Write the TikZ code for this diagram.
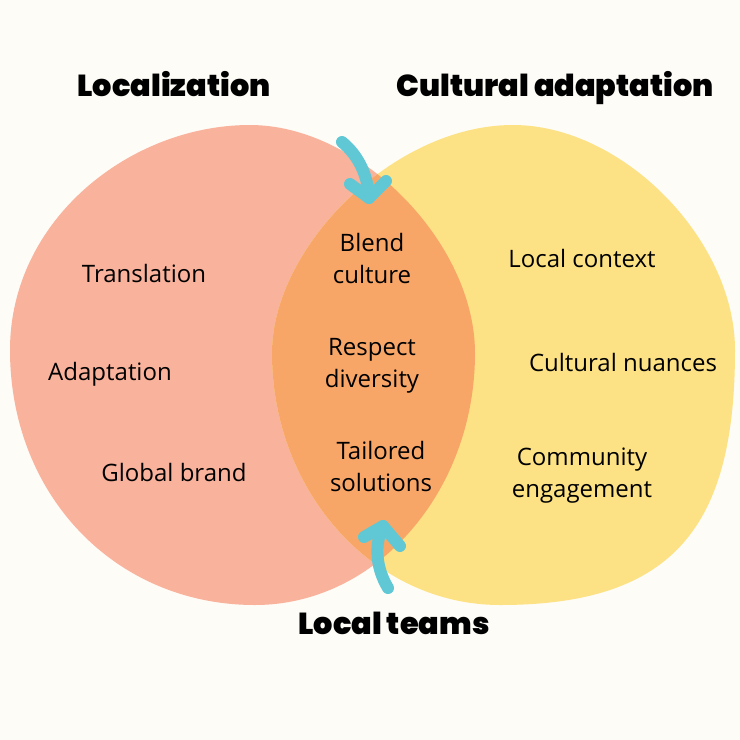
\documentclass[tikz,border=0pt]{standalone}
\usepackage{fontspec}
\setmainfont{Open Sans}
\newfontfamily\heavy{Poppins Black}
\definecolor{bg}{RGB}{254,252,246}
\definecolor{salmon}{RGB}{249,178,156}
\definecolor{yel}{RGB}{252,226,132}
\definecolor{overl}{RGB}{248,166,104}
\definecolor{teal}{RGB}{95,200,212}
\tikzset{
  body/.style={font=\fontsize{24}{32}\selectfont, align=center, text=black, inner sep=0pt, anchor=base},
  ttl/.style={font=\heavy\fontsize{30.3}{34}\selectfont, text=black, inner sep=0pt, anchor=base},
  arrowline/.style={draw=teal, line width=12pt, line cap=round, line join=round},
}
\begin{document}
\begin{tikzpicture}[x=1pt,y=-1pt]
\fill[bg] (0,0) rectangle (740,740);
\useasboundingbox (0,0) rectangle (740,740);
\def\salmonpath{(10,350) .. controls (10,220) and (130,125) .. (250,125)
  .. controls (360,125) and (475,243) .. (475,353)
  .. controls (475,492) and (376,605) .. (255,605)
  .. controls (115,605) and (10,495) .. (10,350) -- cycle}
\def\yelpath{(272,353) .. controls (272,248) and (393,125) .. (513,125)
  .. controls (623,125) and (735,240) .. (735,350)
  .. controls (735,525) and (675,605) .. (500,605)
  .. controls (374,605) and (272,492) .. (272,353) -- cycle}
\fill[salmon] \salmonpath;
\fill[yel] \yelpath;
\begin{scope}
  \clip \salmonpath;
  \fill[overl] \yelpath;
\end{scope}
% arrows
\coordinate (a1s) at (342,142);
\coordinate (a1e) at (369,198);
\coordinate (a1l) at (350,184);
\coordinate (a1r) at (386,181);
\draw[arrowline] (a1s) .. controls (358,155) and (368,175) .. (a1e);
\draw[arrowline] (a1l) -- (a1e) -- (a1r);
\coordinate (a2s) at (388,588);
\coordinate (a2e) at (383,526);
\coordinate (a2l) at (364,537);
\coordinate (a2r) at (400,546);
\draw[arrowline] (a2s) .. controls (376,568) and (374,545) .. (a2e);
\draw[arrowline] (a2l) -- (a2e) -- (a2r);
% titles
\node[ttl] (tl) at (174,96.7) {Localization};
\node[ttl] (tr) at (555,96) {Cultural adaptation};
\node[ttl] (tb) at (394,634.3) {Local teams};
% left
\node[body] (l1) at (144,282.7) {Translation};
\node[body] (l2) at (110,380) {Adaptation};
\node[body] (l3) at (174,481.7) {Global brand};
% middle
\node[body] (m1) at (372,283.3) {Blend\\culture};
\node[body] (m2) at (372,387.7) {Respect\\diversity};
\node[body] (m3) at (381,491.7) {Tailored\\solutions};
% right
\node[body] (r1) at (582,267.3) {Local context};
\node[body] (r2) at (623,371.7) {Cultural nuances};
\node[body] (r3) at (582,497.7) {Community\\engagement};
\end{tikzpicture}
\end{document}
